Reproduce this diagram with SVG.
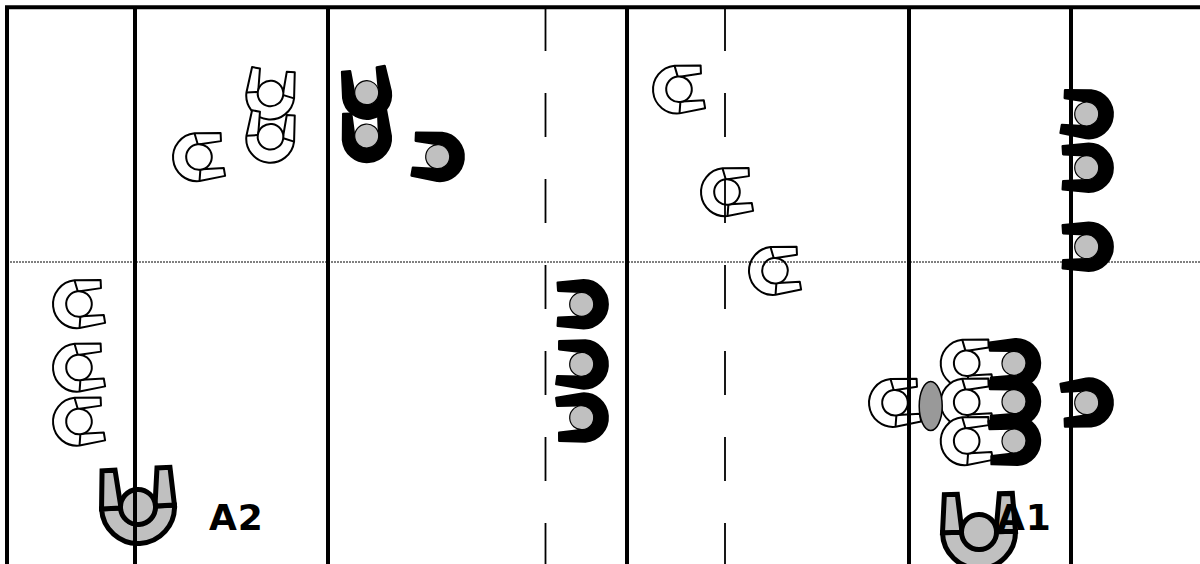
<svg xmlns="http://www.w3.org/2000/svg" xmlns:xlink="http://www.w3.org/1999/xlink" width="1200" height="564" viewBox="0 0 1200 564">
<style>
.w{fill:#fff;stroke:#000;stroke-width:2;stroke-linejoin:round}
.k{fill:#000;stroke:#000;stroke-width:2.4;stroke-linejoin:round}
.h{fill:#c0c0c0;stroke:#000;stroke-width:1.2}
.hw{fill:none;stroke:#000;stroke-width:2}
.b{fill:#c0c0c0;stroke:#000;stroke-width:5;stroke-linejoin:miter}
.s{fill:none;stroke:#000;stroke-width:4}
.d{fill:none;stroke:#000;stroke-width:1.8;stroke-dasharray:44 42}
.t{fill:none;stroke:#000;stroke-width:1;stroke-dasharray:2 1}
.l{font-family:"DejaVu Sans",sans-serif;font-weight:bold;font-size:36px;letter-spacing:1px;fill:#000}
</style>
<defs>
<path id="u" d="M-2,-24L24,-21.500L23.500,-13.500L2,-12.500A12.500,12.500 0 0 0 2,12.500L23.500,13.500L24,21.500L-2,24A24,24 0 0 1 -2,-24Z"/>
<g id="white"><use xlink:href="#u" href="#u" class="w"/><path class="hw" d="M-2,-24L0,-13M-2,24L0,13"/><circle r="12.800" class="w"/></g>
<g id="black"><use xlink:href="#u" href="#u" class="k"/><circle r="12" class="h"/></g>
<g id="big"><path class="b" d="M-36.500,0A36.500,36.500 0 0 0 36.500,0L17,0A17,17 0 0 1 -17,0Z"/><path class="b" d="M-36.500,0L-34,-38L-21,-38L-17,0ZM36.500,0L34,-38L21,-38L17,0Z"/><circle r="17.500" class="b"/></g>
</defs>
<g id="w1"><use href="#white" transform="translate(79,304) rotate(-6)"/></g>
<g id="w2"><use href="#white" transform="translate(79,367.500) rotate(-6)"/></g>
<g id="w3"><use href="#white" transform="translate(79,421.500) rotate(-6)"/></g>
<g id="w4"><use href="#white" transform="translate(199,157) rotate(-6)"/></g>
<g id="w5"><use href="#white" transform="translate(270.500,93.500) rotate(-83)"/></g>
<g id="w6"><use href="#white" transform="translate(270.500,136.700) rotate(-83)"/></g>
<g id="w7"><use href="#white" transform="translate(679,89.300) rotate(-6)"/></g>
<g id="w8"><use href="#white" transform="translate(727,192) rotate(-6)"/></g>
<g id="w9"><use href="#white" transform="translate(775,270.700) rotate(-6)"/></g>
<g id="w10"><use href="#white" transform="translate(966.700,363.300) rotate(-6)"/></g>
<g id="w11"><use href="#white" transform="translate(966.700,402.300) rotate(-6)"/></g>
<g id="w12"><use href="#white" transform="translate(966.700,441) rotate(-6)"/></g>
<g id="w13"><use href="#white" transform="translate(895,402.700) rotate(-6)"/></g>
<g id="ball"><ellipse cx="930.700" cy="406" rx="11.500" ry="24.500" fill="#999" stroke="#000" stroke-width="1.500"/></g>
<g id="b1"><use href="#black" transform="translate(366.700,92.700) rotate(-98)"/></g>
<g id="b2"><use href="#black" transform="translate(366.700,136) rotate(-95)"/></g>
<g id="b3"><use href="#black" transform="translate(437.700,156.700) rotate(186)"/></g>
<g id="b4"><use href="#black" transform="translate(581.700,304.300) rotate(180)"/></g>
<g id="b5"><use href="#black" transform="translate(581.700,364.300) rotate(184)"/></g>
<g id="b6"><use href="#black" transform="translate(581.700,417.700) rotate(176)"/></g>
<g id="b7"><use href="#black" transform="translate(1086.700,114) rotate(186)"/></g>
<g id="b8"><use href="#black" transform="translate(1086.700,167.700) rotate(180)"/></g>
<g id="b9"><use href="#black" transform="translate(1086.700,246.700) rotate(180)"/></g>
<g id="b10"><use href="#black" transform="translate(1014,363.300) rotate(178)"/></g>
<g id="b11"><use href="#black" transform="translate(1014,401.700) rotate(178)"/></g>
<g id="b12"><use href="#black" transform="translate(1014,441) rotate(176)"/></g>
<g id="b13"><use href="#black" transform="translate(1086.700,402.700) rotate(174)"/></g>
<g id="a2"><use href="#big" transform="translate(138,507) rotate(-3)"/></g>
<g id="a1"><use href="#big" transform="translate(979,532) rotate(-1)"/></g>
<g id="connectors">
<path class="s" d="M5,7.300H1200M7,7V564M135,7V564M328,7V564M627,7V564M909,7V564M1071,7V564"/>
<path class="d" d="M545.500,7V564M725,7V564"/>
<path class="t" d="M7,262H1200"/>
</g>
<text class="l" x="209" y="530">A2</text>
<text class="l" x="997" y="530">A1</text>
</svg>
